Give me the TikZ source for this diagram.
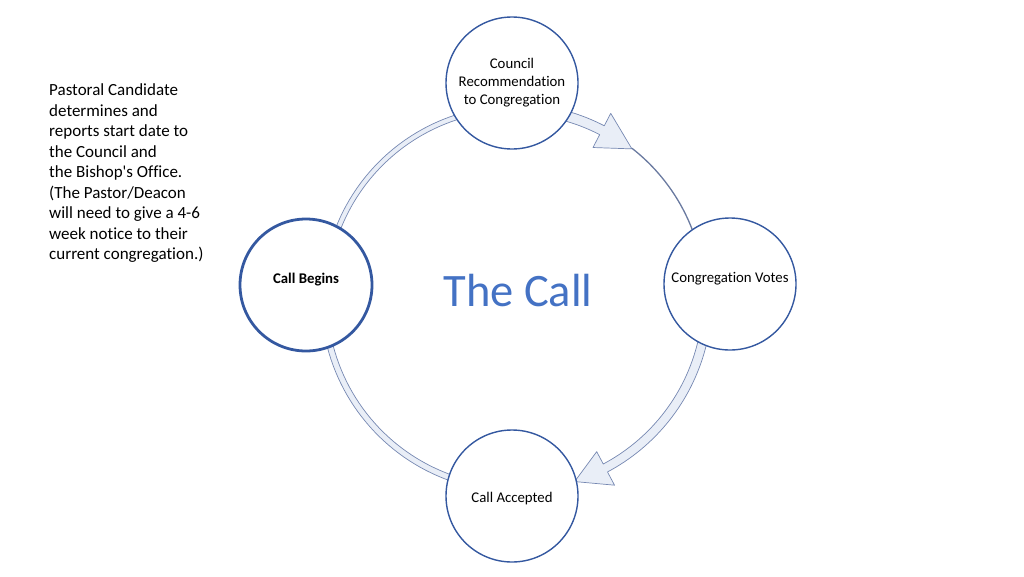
\documentclass[tikz,border=0pt]{standalone}
\usepackage{fontspec}
\setmainfont{Carlito}[Ligatures={TeX,NoCommon}]
\begin{document}
\begin{tikzpicture}[x=1pt,y=-1pt]
\definecolor{circline}{RGB}{52,88,160}
\definecolor{bandfill}{RGB}{233,238,247}
\definecolor{bandline}{RGB}{118,136,178}
\definecolor{titleblue}{RGB}{68,114,196}
\useasboundingbox (0,0) rectangle (1024,576);
\tikzset{
  band/.style={fill=bandfill, draw=bandline, line width=0.7pt, line join=round},
  stage/.style={circle, draw=circline, fill=white, line width=1.4pt, minimum size=132pt,
    inner sep=0pt, font=\fontsize{14.8}{18}\selectfont, align=center},
}
\def\cx{515}\def\cy{298}
% upper-left band
\draw[band] plot[domain=195:262,samples=40] ({\cx+187.5*cos(\x)},{\cy+187.5*sin(\x)})
  -- plot[domain=262:195,samples=40] ({\cx+192.5*cos(\x)},{\cy+192.5*sin(\x)}) -- cycle;
% bottom-left band
\draw[band] plot[domain=100:175,samples=40] ({\cx+188*cos(\x)},{\cy+188*sin(\x)})
  -- plot[domain=175:100,samples=40] ({\cx+194*cos(\x)},{\cy+194*sin(\x)}) -- cycle;
% top-right arrow
\path ({\cx+169.5*cos(-62.6)},{\cy+169.5*sin(-62.6)}) coordinate (a1)
      ({\cx+189.5*cos(-51.9)},{\cy+189.5*sin(-51.9)}) coordinate (a1tip)
      ({\cx+208*cos(-62.6)},{\cy+208*sin(-62.6)}) coordinate (a1b);
\draw[bandline!90!black, line width=1.3pt] plot[domain=-52:-15,samples=40] ({\cx+190*cos(\x)},{\cy+190*sin(\x)});
\draw[band] plot[domain=-80:-62.6,samples=20] ({\cx+184*cos(\x)},{\cy+184*sin(\x)})
  -- (a1) -- (a1tip) -- (a1b)
  -- plot[domain=-62.6:-80,samples=20] ({\cx+194*cos(\x)},{\cy+194*sin(\x)}) -- cycle;
% right-bottom arrow
\path ({\cx+212*cos(62)},{\cy+212*sin(62)}) coordinate (a2)
      ({\cx+193*cos(72)},{\cy+193*sin(72)}) coordinate (a2tip)
      ({\cx+174*cos(62)},{\cy+174*sin(62)}) coordinate (a2b);
\draw[band] plot[domain=5:62,samples=40] ({\cx+197*cos(\x)},{\cy+197*sin(\x)})
  -- (a2) -- (a2tip) -- (a2b)
  -- plot[domain=62:5,samples=40] ({\cx+188*cos(\x)},{\cy+188*sin(\x)}) -- cycle;
% stages
\node[stage] (council) at (512,83) {Council\\Recommendation\\to Congregation};
\node[stage, text height=9pt, text depth=12pt] (votes) at (730,284) {Congregation Votes};
\node[stage, text height=14pt, text depth=2pt] (accepted) at (512,496) {Call Accepted};
\node[stage, line width=2.8pt, font=\fontsize{14.8}{18}\selectfont\bfseries, text height=9pt, text depth=13pt] (begins) at (306,285) {Call Begins};
% title
\node[font=\fontsize{46.5}{56}\selectfont, text=titleblue] (title) at (518,291) {The Call};
% note
\node[anchor=north west, inner sep=0pt, align=left, font=\fontsize{17}{20.5}\selectfont] (note) at (49,83.5)
 {Pastoral Candidate\\determines and\\reports start date to\\the Council and\\the Bishop\textquotesingle s Office.\\(The Pastor/Deacon\\will need to give a 4-6\\week notice to their\\current congregation.)};
\end{tikzpicture}
\end{document}
